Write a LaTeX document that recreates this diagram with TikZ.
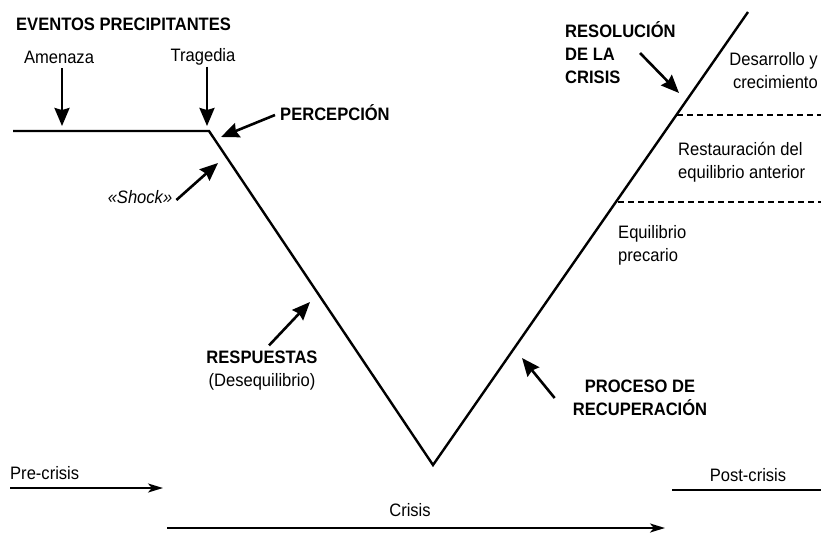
\documentclass[tikz,border=0pt]{standalone}
\usepackage{fontspec}
\setmainfont{Liberation Sans}[FakeStretch=0.92]
\usetikzlibrary{arrows.meta}

\tikzset{
  lbl/.style={font=\fontsize{18}{23}\selectfont, inner sep=0pt},
  hdr/.style={font=\fontsize{18}{23}\selectfont\bfseries, inner sep=0pt},
  curve/.style={line width=2.4pt, line join=miter},
  pointer/.style={line width=2.6pt, -{Stealth[length=18pt,width=15pt,inset=2pt]}},
  phase/.style={line width=2.2pt, -{Stealth[length=15pt,width=9pt,inset=4pt]}},
  level/.style={line width=1.9pt, dash pattern=on 6pt off 4pt},
}

\begin{document}
\begin{tikzpicture}[x=1pt, y=-1pt]
  \useasboundingbox[fill=white] (0,0) rectangle (821,536);

  % the crisis curve
  \coordinate (start) at (13,131);
  \coordinate (knee) at (209,131);
  \coordinate (bottom) at (433,465);
  \coordinate (peak) at (748,12);
  \draw[curve] (start) -- (knee) -- (bottom) -- (peak);

  % levels of resolution
  \coordinate (upL) at (677,115);
  \coordinate (upR) at (821,115);
  \coordinate (loL) at (618,202);
  \coordinate (loR) at (821,202);
  \draw[level] (upL) -- (upR);
  \draw[level] (loL) -- (loR);

  % precipitating events
  \node[hdr, anchor=west] (eventos) at (16,24) {EVENTOS PRECIPITANTES};
  \node[lbl] (amenaza) at (59,57) {Amenaza};
  \node[lbl] (tragedia) at (203,57) {Tragedia};
  \coordinate (amenazaTip) at (62,126);
  \coordinate (tragediaTip) at (207,126);
  \draw[pointer, shorten <=5pt] (amenazaTip |- amenaza.south) -- (amenazaTip);
  \draw[pointer, shorten <=1pt] (tragediaTip |- tragedia.south) -- (tragediaTip);

  \node[hdr, anchor=west] (percepcion) at (280,113) {PERCEPCIÓN};
  \coordinate (percTip) at (221,137);
  \draw[pointer] ([xshift=-5pt,yshift=-2pt]percepcion.west) -- (percTip);

  \node[lbl, font=\fontsize{18}{23}\selectfont\itshape] (shock) at (140,197) {«Shock»};
  \coordinate (shockTip) at (218,163);
  \draw[pointer] ([xshift=4pt,yshift=-3pt]shock.east) -- (shockTip);

  % responses and recovery
  \node[hdr] (respuestas) at (262,357) {RESPUESTAS};
  \node[lbl] (deseq) at (262,382) {(Desequilibrio)};
  \coordinate (respTip) at (310,302);
  \draw[pointer] ([xshift=7pt,yshift=5pt]respuestas.north) -- (respTip);

  \node[hdr, align=center] (proceso) at (640,398) {PROCESO DE\\RECUPERACIÓN};
  \coordinate (procTip) at (522,358);
  \draw[pointer] ([xshift=-18pt]proceso.west) -- (procTip);

  \node[hdr, align=left, anchor=west] (resolucion) at (565,53) {RESOLUCIÓN\\DE LA\\CRISIS};
  \coordinate (resTip) at (679,93);
  \draw[pointer] ([xshift=75pt]resolucion.west) -- (resTip);

  % outcomes
  \node[lbl, align=right, anchor=east] (desarrollo) at (818,71) {Desarrollo y\\crecimiento};
  \node[lbl, align=left, anchor=west] (restauracion) at (678,162) {Restauración del\\equilibrio anterior};
  \node[lbl, align=left, anchor=west] (precario) at (618,245) {Equilibrio\\precario};

  % phases on the time line
  \node[lbl, anchor=west] (pre) at (10,473) {Pre-crisis};
  \coordinate (preEnd) at (163,488);
  \draw[phase] (pre.south west |- preEnd) -- (preEnd);

  \node[lbl] (post) at (748,475) {Post-crisis};
  \coordinate (postL) at (672,490);
  \coordinate (postR) at (821,490);
  \draw[curve] (postL) -- (postR);

  \node[lbl] (crisis) at (410,510) {Crisis};
  \coordinate (crisisL) at (167,528);
  \coordinate (crisisR) at (665,528);
  \draw[phase] (crisisL) -- (crisisR);
\end{tikzpicture}
\end{document}
